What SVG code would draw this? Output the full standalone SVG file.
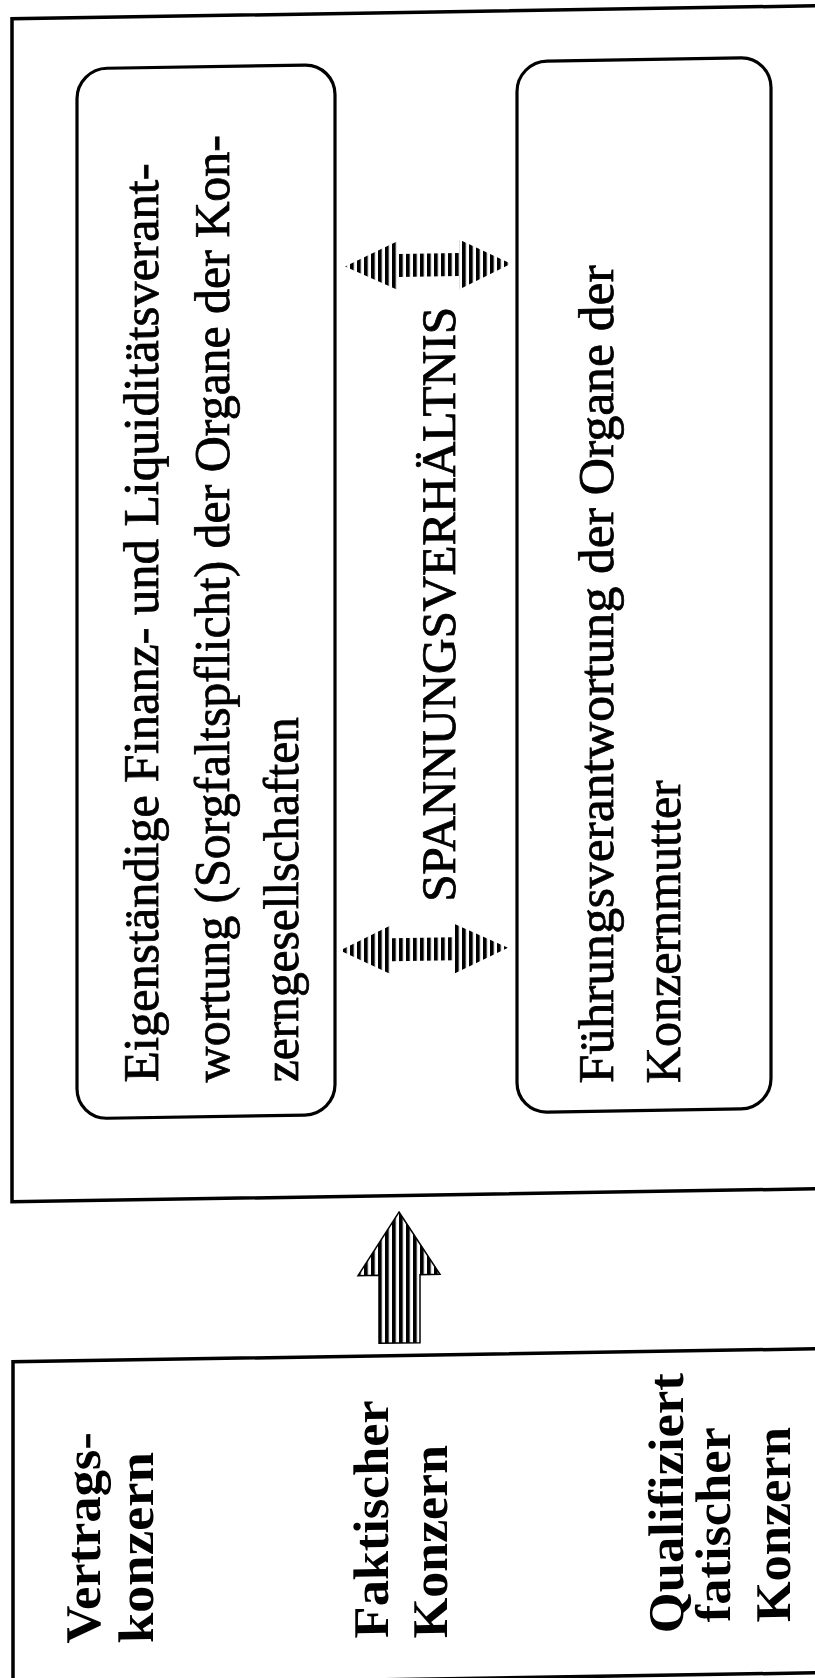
<svg xmlns="http://www.w3.org/2000/svg" width="815" height="1678" viewBox="0 0 815 1678">
<style>
.frame{fill:none;stroke:#000;stroke-width:3.5}
.box{fill:#fff;stroke:#000;stroke-width:3.2}
.t{font-family:"Liberation Serif","Times New Roman",serif;font-size:50px;fill:#000;stroke:#000;stroke-width:0.8}
.tb{font-family:"Liberation Serif","Times New Roman",serif;font-size:50px;font-weight:bold;fill:#000}
.hatch{fill:url(#stripes)}
</style>
<defs>
<pattern id="stripes" patternUnits="userSpaceOnUse" width="7" height="10">
<rect x="0" y="0" width="7" height="10" fill="#fff"/>
<rect x="0" y="0" width="3.8" height="10" fill="#000"/>
</pattern>
</defs>
<rect width="815" height="1678" fill="#fff"/>
<g transform="skewY(-0.93)">
<g id="frame-top">
<path class="frame" d="M830,19 L12,19 L12,1202 L830,1202"/>
</g>
<g id="box-left">
<rect class="box" x="77" y="70" width="258" height="1050" rx="30" ry="30"/>
<text class="t" transform="translate(158,1084.6) rotate(-90)" textLength="919" lengthAdjust="spacingAndGlyphs">Eigenständige Finanz- und Liquiditätsverant-</text>
<text class="t" transform="translate(229,1085.7) rotate(-90)" textLength="947" lengthAdjust="spacingAndGlyphs">wortung (Sorgfaltspflicht) der Organe der Kon-</text>
<text class="t" transform="translate(298,1086.8) rotate(-90)" textLength="365" lengthAdjust="spacingAndGlyphs">zerngesellschaften</text>
</g>
<g id="box-right">
<rect class="box" x="517" y="70" width="254" height="1051" rx="30" ry="30"/>
<text class="t" transform="translate(613,1093) rotate(-90)" textLength="818" lengthAdjust="spacingAndGlyphs">Führungsverantwortung der Organe der</text>
<text class="t" transform="translate(680,1094) rotate(-90)" textLength="303" lengthAdjust="spacingAndGlyphs">Konzernmutter</text>
</g>
<g id="tension-label">
<text class="t" style="font-size:48px" transform="translate(455,909) rotate(-90)" textLength="595" lengthAdjust="spacingAndGlyphs">SPANNUNGSVERHÄLTNIS</text>
</g>
<g id="connectors">
<path class="hatch" d="M345,272 L399,247 L399,260.5 L459,260.5 L459,247 L511,272 L459,297 L459,283.5 L399,283.5 L399,297 Z"/>
<path class="hatch" d="M340,956 L392,931 L392,944.5 L454,944.5 L454,931 L508,956 L454,981 L454,967.5 L392,967.5 L392,981 Z"/>
<path class="hatch" stroke="#000" stroke-width="1.5" d="M399,1218.5 L440,1281.5 L420,1281.5 L420,1349.5 L379,1349.5 L379,1281.5 L358,1281.5 Z"/>
</g>
<g id="frame-bottom">
<path class="frame" d="M830,1362 L13,1362 L13,1686 L830,1686"/>
<text class="tb" transform="translate(100,1644.6) rotate(-90)" textLength="211" lengthAdjust="spacingAndGlyphs">Vertrags-</text>
<text class="tb" transform="translate(153,1645.5) rotate(-90)" textLength="191" lengthAdjust="spacingAndGlyphs">konzern</text>
<text class="tb" transform="translate(388,1644.3) rotate(-90)" textLength="238" lengthAdjust="spacingAndGlyphs">Faktischer</text>
<text class="tb" transform="translate(447,1645.2) rotate(-90)" textLength="193" lengthAdjust="spacingAndGlyphs">Konzern</text>
<text class="tb" transform="translate(683,1644) rotate(-90)" textLength="260" lengthAdjust="spacingAndGlyphs">Qualifiziert</text>
<text class="tb" transform="translate(730,1633.8) rotate(-90)" textLength="195" lengthAdjust="spacingAndGlyphs">fatischer</text>
<text class="tb" transform="translate(790,1634.8) rotate(-90)" textLength="195" lengthAdjust="spacingAndGlyphs">Konzern</text>
</g>
</g>
</svg>
